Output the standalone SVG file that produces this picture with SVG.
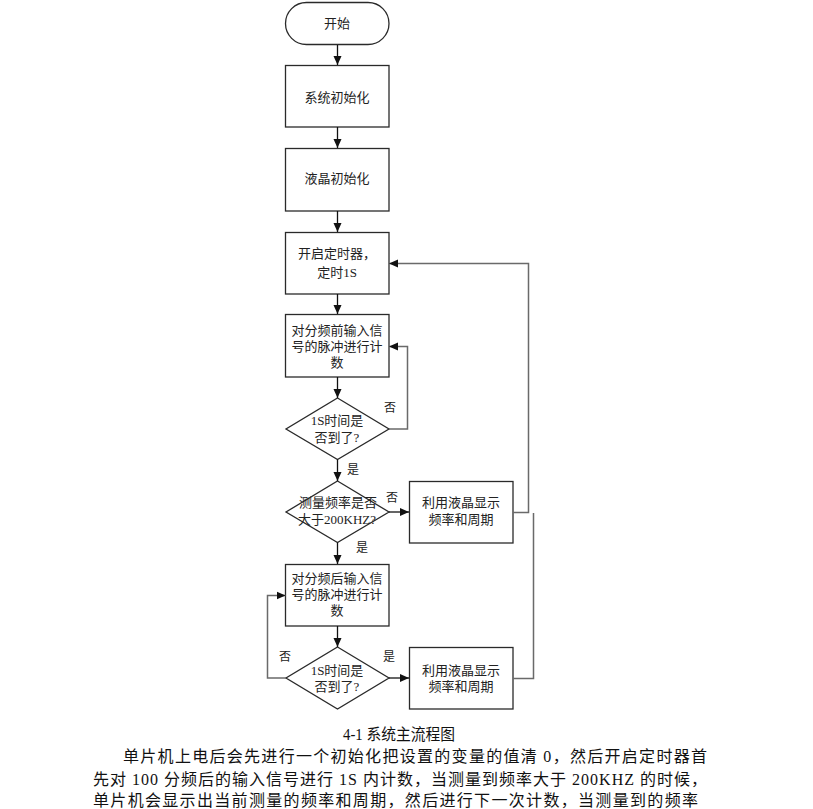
<svg xmlns="http://www.w3.org/2000/svg" width="813" height="809" viewBox="0 0 813 809">
<style>
.shape{fill:#fff;stroke:#2a2a2a;stroke-width:1.3}
.t{font-family:"Liberation Serif","Noto Sans CJK SC",serif;font-size:13px;fill:#222;text-anchor:middle}
.lbl{font-family:"Liberation Serif","Noto Sans CJK SC",serif;font-size:12px;fill:#222;text-anchor:middle}
.c{fill:none;stroke:#111;stroke-width:1.3}
.g{fill:none;stroke:#6a6a6a;stroke-width:1.5}
.p{font-family:"Liberation Serif","Noto Sans CJK SC",serif;font-size:16px;fill:#111}
</style>
<defs>
<marker id="ah" markerWidth="10" markerHeight="10" refX="9" refY="5" orient="auto" markerUnits="userSpaceOnUse">
<path d="M0,1 L9,5 L0,9 Z" fill="#111"/>
</marker>
</defs>
<rect width="813" height="809" fill="#fff"/>
<g id="start"><rect class="shape" x="285.5" y="2.5" width="103.5" height="42" rx="21" ry="21"/><text class="t" x="337" y="28">开始</text></g>
<g id="sysinit"><rect class="shape" x="285.5" y="65.5" width="103.5" height="61.5"/><text class="t" x="337" y="102">系统初始化</text></g>
<g id="lcdinit"><rect class="shape" x="285.5" y="148.5" width="103.5" height="62.5"/><text class="t" x="337" y="183">液晶初始化</text></g>
<g id="timer"><rect class="shape" x="285.5" y="232.5" width="103.5" height="61.5"/><text class="t" x="337" y="258">开启定时器，</text><text class="t" x="337" y="277">定时1S</text></g>
<g id="count1"><rect class="shape" x="285.5" y="314.5" width="103.5" height="62.5"/><text class="t" x="337" y="335">对分频前输入信</text><text class="t" x="337" y="351">号的脉冲进行计</text><text class="t" x="337" y="367">数</text></g>
<g id="dec1"><polygon class="shape" points="337.5,398 389,429 337.5,459.5 286,429"/><text class="t" x="337" y="425">1S时间是</text><text class="t" x="337" y="442">否到了?</text></g>
<g id="dec2"><polygon class="shape" points="337.5,481 389,512 337.5,542.5 286,512"/><text class="t" x="338" y="507">测量频率是否</text><text class="t" x="337" y="524">大于200KHZ?</text></g>
<g id="disp1"><rect class="shape" x="409.5" y="481.5" width="103.5" height="61.5"/><text class="t" x="461" y="507">利用液晶显示</text><text class="t" x="461" y="524">频率和周期</text></g>
<g id="count2"><rect class="shape" x="285.5" y="564.5" width="103.5" height="61.5"/><text class="t" x="337" y="583">对分频后输入信</text><text class="t" x="337" y="599">号的脉冲进行计</text><text class="t" x="337" y="615">数</text></g>
<g id="dec3"><polygon class="shape" points="337.5,647 389,678 337.5,709 286,678"/><text class="t" x="337" y="675">1S时间是</text><text class="t" x="337" y="691">否到了?</text></g>
<g id="disp2"><rect class="shape" x="409.5" y="647.5" width="103.5" height="61.5"/><text class="t" x="461" y="675">利用液晶显示</text><text class="t" x="461" y="691">频率和周期</text></g>
<g id="connectors">
<path class="c" d="M337.5,45 V65" marker-end="url(#ah)"/>
<path class="c" d="M337.5,127 V148" marker-end="url(#ah)"/>
<path class="c" d="M337.5,211 V232" marker-end="url(#ah)"/>
<path class="c" d="M337.5,294 V314" marker-end="url(#ah)"/>
<path class="c" d="M337.5,377 V398" marker-end="url(#ah)"/>
<path class="g" d="M389,429 H407.5 V346.5 H389" marker-end="url(#ah)"/>
<path class="c" d="M337.5,459.5 V481" marker-end="url(#ah)"/>
<path class="c" d="M389,512 H409" marker-end="url(#ah)"/>
<path class="c" d="M337.5,542.5 V564" marker-end="url(#ah)"/>
<path class="c" d="M337.5,626 V647" marker-end="url(#ah)"/>
<path class="g" d="M286,678 H267.5 V595.5 H285.5" marker-end="url(#ah)"/>
<path class="c" d="M389,678 H409" marker-end="url(#ah)"/>
<path class="g" d="M513,512.5 H528.5 V263.5 H389" marker-end="url(#ah)"/>
<path class="g" d="M513,678.5 H533.5 V513"/>
<text class="lbl" x="390" y="412">否</text>
<text class="lbl" x="353" y="474">是</text>
<text class="lbl" x="392" y="502">否</text>
<text class="lbl" x="362" y="552">是</text>
<text class="lbl" x="285" y="661">否</text>
<text class="lbl" x="389" y="661">是</text>
</g>
<text class="p" x="343" y="740" font-size="14" textLength="112" lengthAdjust="spacingAndGlyphs">4-1 系统主流程图</text>
<text class="p" x="123" y="762" textLength="584" lengthAdjust="spacing">单片机上电后会先进行一个初始化把设置的变量的值清 0，然后开启定时器首</text>
<text class="p" x="93" y="785" textLength="614" lengthAdjust="spacing">先对 100 分频后的输入信号进行 1S 内计数，当测量到频率大于 200KHZ 的时候，</text>
<text class="p" x="93" y="806" textLength="605" lengthAdjust="spacing">单片机会显示出当前测量的频率和周期，然后进行下一次计数，当测量到的频率</text>
</svg>
